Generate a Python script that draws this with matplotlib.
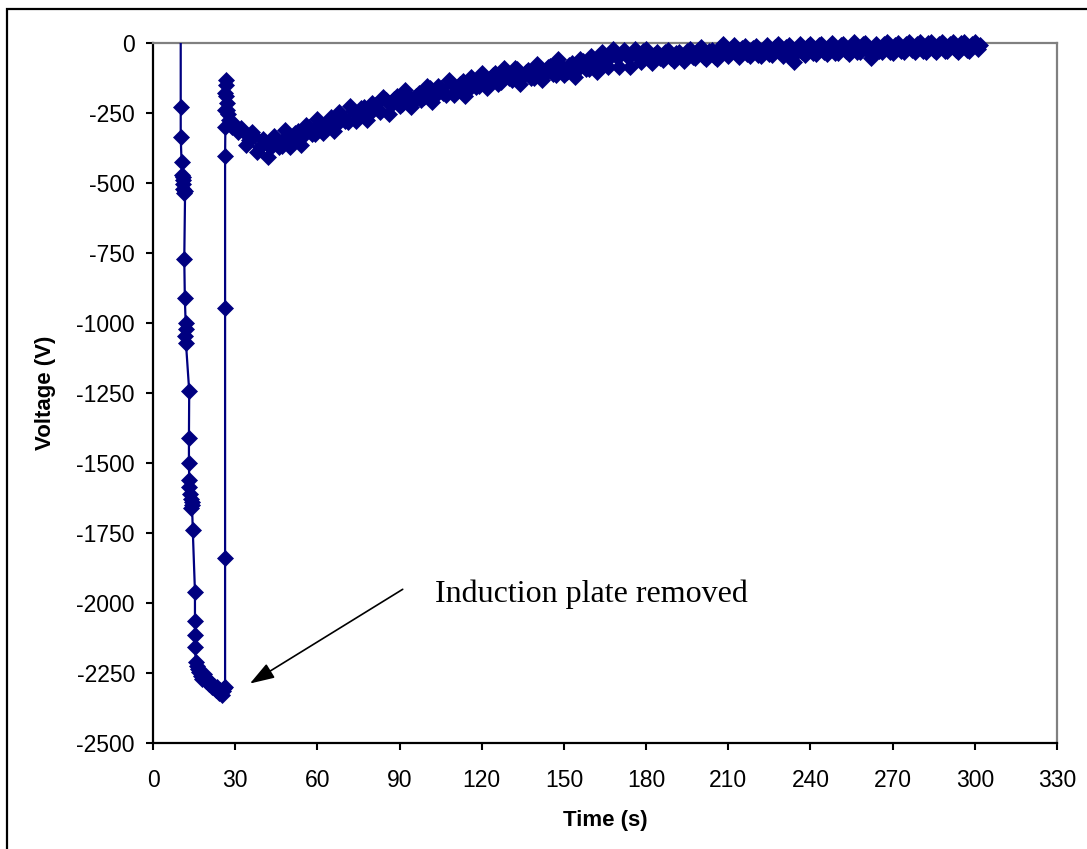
import numpy as np
import matplotlib
matplotlib.use("Agg")
from matplotlib import pyplot as plt
from matplotlib.patches import Rectangle

plt.rcParams["axes.unicode_minus"] = False

# fast transient: charging, then the plate is pulled away at ~26 s
t_step = [10.1, 10.1, 10.1, 10.4, 10.6, 10.8, 11.0, 10.9, 11.1, 11.3, 11.7,
          11.4, 11.6, 11.9, 12.1, 11.8, 12.0, 13.2, 13.1, 13.1, 13.2, 13.1,
          13.5, 14.0, 14.4, 13.8, 14.2, 14.5, 15.3, 15.3, 15.3, 15.3, 15.6,
          16.2, 16.8, 17.4, 16.5, 18.0, 18.6, 19.3, 19.9, 20.4, 21.0, 21.6,
          22.2, 22.8, 23.4, 24.0, 24.5, 25.0, 25.6, 26.0, 26.3, 26.3, 26.3,
          26.3, 26.4, 26.3, 26.4, 26.5, 26.7, 26.6, 26.9, 27.1, 27.4, 27.8,
          28.2, 28.8, 29.4]
v_step = [0, -229, -335, -425, -470, -490, -505, -520, -480, -535, -530,
          -771, -911, -1000, -1020, -1045, -1070, -1243, -1410, -1500,
          -1560, -1585, -1610, -1630, -1650, -1660, -1640, -1740, -1960,
          -2065, -2115, -2157, -2210, -2225, -2245, -2260, -2235, -2270,
          -2255, -2280, -2275, -2290, -2285, -2300, -2295, -2310, -2300,
          -2320, -2310, -2330, -2315, -2305, -2300, -1840, -946, -404,
          -300, -240, -180, -132, -150, -190, -215, -240, -255, -275,
          -285, -300, -290]

# slow decay, logger clock 1 s from t = 30 s to 302 s
t_decay = list(range(30, 303))
v_decay = [
    -295, -318, -305, -315, -364, -348, -317, -331, -388, -373,   # 30
    -344, -352, -408, -372, -331, -342, -372, -369, -312, -333,   # 40
    -370, -351, -323, -313, -363, -329, -294, -300, -325, -325,   # 50
    -270, -289, -323, -307, -282, -265, -316, -290, -248, -262,   # 60
    -280, -282, -226, -244, -279, -259, -234, -227, -275, -255,   # 70
    -215, -223, -237, -246, -192, -205, -253, -222, -199, -189,   # 80
    -226, -218, -168, -190, -227, -212, -188, -178, -205, -192,   # 90
    -154, -160, -212, -191, -155, -162, -179, -186, -133, -148,   # 100
    -186, -167, -146, -136, -188, -169, -123, -136, -157, -155,   # 110
    -108, -122, -162, -140, -116, -109, -148, -141, -88, -110,    # 120
    -126, -132, -90, -94, -145, -119, -103, -96, -126, -124,      # 130
    -75, -89, -133, -110, -85, -82, -111, -115, -57, -82,         # 140
    -115, -104, -79, -71, -121, -92, -57, -63, -93, -94,          # 150
    -46, -63, -102, -84, -32, -52, -87, -45, -23, -47,            # 160
    -85, -40, -24, -46, -86, -38, -22, -46, -69, -30,             # 170
    -20, -58, -71, -42, -33, -55, -61, -33, -25, -52,             # 180
    -63, -35, -31, -54, -65, -29, -23, -49, -55, -25,             # 190
    -15, -50, -59, -30, -25, -50, -59, -19, -5, -28,              # 200
    -46, -21, -6, -39, -50, -17, -10, -41, -45, -19,              # 210
    -10, -43, -47, -20, -7, -41, -43, -13, -3, -34,               # 220
    -47, -16, -9, -53, -68, -28, -4, -33, -42, -11,               # 230
    -2, -35, -38, -9, -3, -31, -41, -11, -1, -35,                 # 240
    -37, -6, -3, -28, -38, -10, 2, -31, -34, -5,                  # 250
    1, -27, -54, -26, -2, -29, -33, -5, 3, -32,                   # 260
    -35, -9, 1, -28, -31, -3, 3, -24, -33, -5,                    # 270
    5, -29, -31, 0, 2, -25, -33, -4, 5, -28,                      # 280
    -28, -3, 3, -24, -31, 0, 5, -24, -28, -2,                     # 290
    2, -20, -8]                                                   # 300

x_ticks = [0, 30, 60, 90, 120, 150, 180, 210, 240, 270, 300, 330]
y_ticks = [0, -250, -500, -750, -1000, -1250, -1500, -1750, -2000, -2250, -2500]

t = np.array(t_step + t_decay, dtype=float)
v = np.array(v_step + v_decay, dtype=float)

navy = "#000080"
fig = plt.figure(figsize=(10.87, 8.49), dpi=100)
ax = fig.add_axes([0.1408, 0.1249, 0.8316, 0.8245])

ax.plot(t, v, color=navy, lw=1.6, zorder=3)
ax.plot(t[1:], v[1:], ls="none", marker="D", ms=8, color=navy,
        mec=navy, mew=0.5, clip_on=False, zorder=4)

ax.set_xlim(0, 330)
ax.set_ylim(-2500, 0)
ax.set_xticks(x_ticks)
ax.set_yticks(y_ticks)
ax.tick_params(axis="both", direction="out", length=5, width=1.5,
               labelsize=16.5)
ax.tick_params(axis="x", pad=14)
ax.tick_params(axis="y", pad=8)
for s in ["left", "bottom"]:
    ax.spines[s].set_color("black")
    ax.spines[s].set_linewidth(1.6)
for s in ["top", "right"]:
    ax.spines[s].set_color("#808080")
    ax.spines[s].set_linewidth(1.6)

ax.set_xlabel("Time (s)", fontsize=16, fontweight="bold",
              family="Liberation Sans", labelpad=13)
ax.set_ylabel("Voltage (V)", fontsize=16, fontweight="bold",
              family="Liberation Sans", labelpad=15)
for lab in ax.get_xticklabels() + ax.get_yticklabels():
    lab.set_family("Liberation Sans")

ax.annotate("", xy=(34.5, -2293), xytext=(92, -1946),
            arrowprops=dict(arrowstyle="-|>,head_length=1.5,head_width=0.5",
                            color="black", lw=1.2))
ax.text(103, -1996, "Induction plate removed", fontsize=23,
        family="Liberation Serif", ha="left", va="baseline")

# outer frame
fig.patches.append(Rectangle((7 / 1087, -0.1), 1.2, 1 - 9 / 849 + 0.1,
                             transform=fig.transFigure, fill=False,
                             ec="black", lw=1.6))

fig.savefig("out.png", dpi=100)
